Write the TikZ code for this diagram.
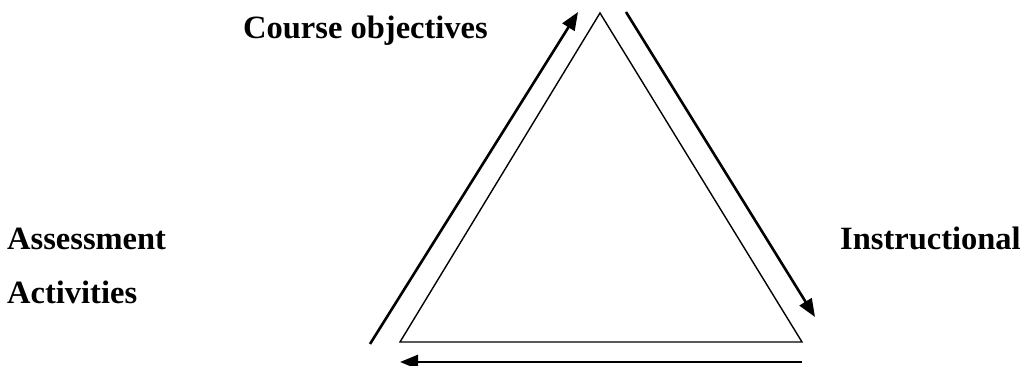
\documentclass[tikz,border=0pt]{standalone}
\usepackage{fontspec}
\setmainfont{Liberation Serif}
\usetikzlibrary{arrows.meta}
\begin{document}
\begin{tikzpicture}[x=1pt,y=-1pt,
  lbl/.style={font=\fontsize{32.5}{38}\selectfont\bfseries, inner sep=0pt, anchor=base west},
  arr/.style={line width=2.6pt, -{Triangle[length=18pt,width=14pt]}},
  tri/.style={line width=1.4pt, line join=miter}]
\useasboundingbox (0,0) rectangle (1020,366);
\coordinate (top) at (600,13);
\coordinate (bl) at (400,342);
\coordinate (br) at (802,342);
\draw[tri] (top) -- (bl) -- (br) -- cycle;
\coordinate (a1s) at (370,344);
\coordinate (a1e) at (578,12);
\coordinate (a2s) at (626,12);
\coordinate (a2e) at (815,317);
\coordinate (a3s) at (802,362);
\coordinate (a3e) at (400,362);
\draw[arr] (a1s) -- (a1e);
\draw[arr] (a2s) -- (a2e);
\draw[arr] (a3s) -- (a3e);
\node[lbl] (co) at (243,39) {Course objectives};
\node[lbl] (as) at (7,250) {Assessment};
\node[lbl] (ac) at (7,303) {Activities};
\node[lbl] (in) at (840,249) {Instructional};
\end{tikzpicture}
\end{document}
